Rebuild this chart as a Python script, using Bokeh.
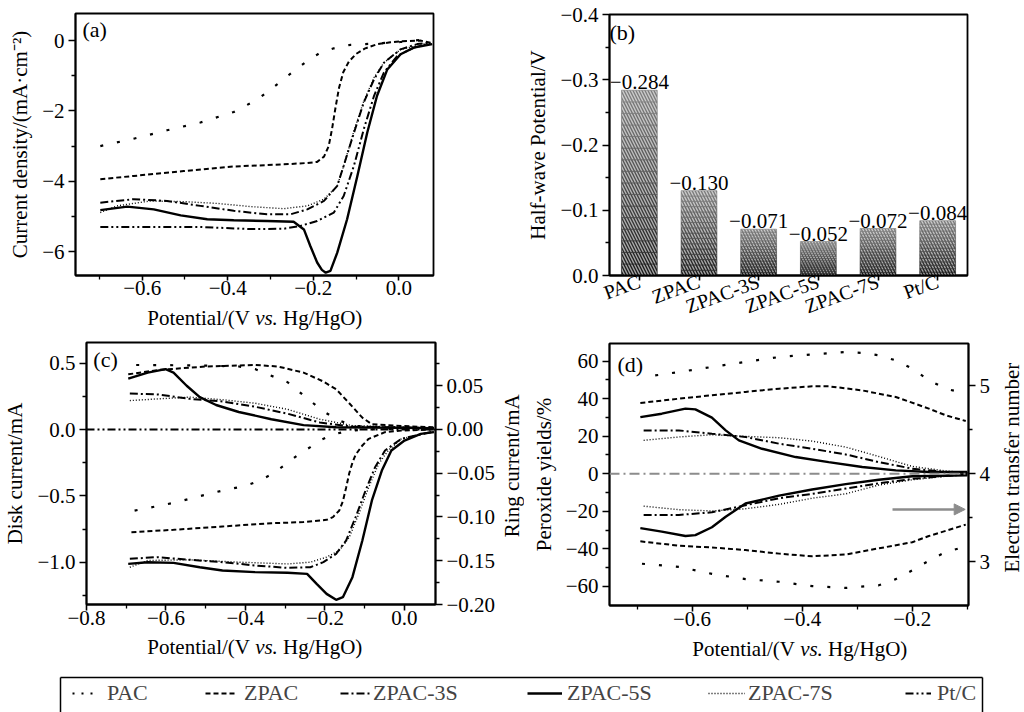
import math
from bokeh.plotting import figure
from bokeh.models import (Range1d, LinearAxis, FixedTicker, CustomJSTickFormatter, Label, Span,
                          Arrow, NormalHead, Legend, LegendItem, FactorRange)
from bokeh.core.properties import value
from bokeh.layouts import row, column
from bokeh.embed import file_html
from bokeh.resources import INLINE

FONT = "Liberation Serif"

NAMES = ["PAC", "ZPAC", "ZPAC-3S", "ZPAC-5S", "ZPAC-7S", "Pt/C"]

# ---------------- (a) LSV current density ----------------
PAC_A_X = [-0.698, -0.62, -0.542, -0.464, -0.386, -0.33, -0.284, -0.245, -0.214, -0.183, -0.152, -0.113, -0.058, 0.004, 0.05, 0.074]
PAC_A_Y = [-3.0, -2.79, -2.55, -2.33, -2.03, -1.67, -1.24, -0.86, -0.58, -0.34, -0.22, -0.12, -0.085, -0.04, 0.02, -0.06]
ZPAC_A_X = [-0.698, -0.62, -0.503, -0.386, -0.269, -0.214, -0.191, -0.175, -0.164, -0.156, -0.148, -0.14, -0.13, -0.117, -0.1, -0.08, -0.05, -0.02, 0.004, 0.05, 0.074]
ZPAC_A_Y = [-3.94, -3.85, -3.71, -3.58, -3.52, -3.48, -3.45, -3.3, -3.0, -2.5, -1.9, -1.35, -0.9, -0.6, -0.38, -0.23, -0.1, -0.05, -0.02, 0.0, -0.06]
Z3S_A_X = [-0.698, -0.62, -0.542, -0.464, -0.386, -0.308, -0.253, -0.214, -0.175, -0.144, -0.129, -0.105, -0.082, -0.058, -0.035, 0.004, 0.043, 0.074]
Z3S_A_Y = [-4.61, -4.51, -4.56, -4.70, -4.84, -4.94, -4.94, -4.80, -4.56, -4.13, -3.56, -2.62, -1.76, -1.10, -0.63, -0.25, -0.10, -0.06]
Z5S_A_X = [-0.698, -0.635, -0.573, -0.51, -0.448, -0.386, -0.308, -0.246, -0.222, -0.207, -0.191, -0.18, -0.171, -0.16, -0.144, -0.121, -0.097, -0.074, -0.051, -0.027, 0.004, 0.035, 0.078]
Z5S_A_Y = [-4.82, -4.72, -4.80, -4.97, -5.08, -5.11, -5.13, -5.15, -5.37, -5.84, -6.31, -6.52, -6.6, -6.55, -6.03, -5.08, -3.85, -2.62, -1.57, -0.82, -0.39, -0.2, -0.1]
Z7S_A_X = [-0.698, -0.659, -0.581, -0.503, -0.425, -0.347, -0.269, -0.214, -0.175, -0.144, -0.129, -0.105, -0.082, -0.058, -0.035, 0.004, 0.074]
Z7S_A_Y = [-4.89, -4.70, -4.56, -4.58, -4.63, -4.72, -4.78, -4.70, -4.51, -4.13, -3.56, -2.57, -1.72, -1.05, -0.63, -0.25, -0.06]
PTC_A_X = [-0.698, -0.581, -0.464, -0.347, -0.269, -0.23, -0.191, -0.152, -0.129, -0.105, -0.082, -0.058, -0.035, -0.004, 0.035, 0.074]
PTC_A_Y = [-5.30, -5.30, -5.30, -5.36, -5.35, -5.27, -5.13, -4.89, -4.42, -3.56, -2.52, -1.57, -0.91, -0.44, -0.2, -0.08]

A_XTICKS = [-0.6, -0.4, -0.2, 0.0]
A_XMINOR = [-0.7, -0.5, -0.3, -0.1]
A_YTICKS = [0, -2, -4, -6]
A_YMINOR = [-1, -3, -5]

# ---------------- (b) half-wave potentials ----------------
CATS = ["PAC", "ZPAC", "ZPAC-3S", "ZPAC-5S", "ZPAC-7S", "Pt/C"]
HALF_WAVE = [-0.284, -0.130, -0.071, -0.052, -0.072, -0.084]
B_YTICKS = [0.0, -0.1, -0.2, -0.3, -0.4]
B_YMINOR = [-0.05, -0.15, -0.25, -0.35]

# ---------------- (c) RRDE disk / ring currents ----------------
PAC_D_X = [-0.679, -0.626, -0.573, -0.516, -0.458, -0.401, -0.368, -0.335, -0.303, -0.27, -0.237, -0.213, -0.18, -0.139, -0.09, -0.008, 0.074]
PAC_D_Y = [-0.611, -0.58, -0.548, -0.503, -0.46, -0.425, -0.389, -0.339, -0.271, -0.196, -0.133, -0.083, -0.038, -0.008, 0.0, 0.005, 0.007]
ZPAC_D_X = [-0.687, -0.581, -0.458, -0.335, -0.254, -0.196, -0.18, -0.164, -0.155, -0.147, -0.139, -0.131, -0.123, -0.106, -0.09, -0.049, -0.008, 0.074]
ZPAC_D_Y = [-0.774, -0.756, -0.731, -0.706, -0.698, -0.681, -0.66, -0.61, -0.54, -0.44, -0.33, -0.25, -0.19, -0.12, -0.07, -0.02, -0.008, 0.0]
Z3S_D_X = [-0.691, -0.622, -0.54, -0.458, -0.376, -0.294, -0.237, -0.204, -0.172, -0.147, -0.123, -0.098, -0.074, -0.049, -0.008, 0.074]
Z3S_D_Y = [-0.975, -0.962, -0.982, -1.0, -1.025, -1.043, -1.038, -1.0, -0.937, -0.837, -0.661, -0.46, -0.284, -0.158, -0.07, -0.015]
Z5S_D_X = [-0.695, -0.646, -0.581, -0.515, -0.458, -0.376, -0.294, -0.245, -0.221, -0.196, -0.172, -0.155, -0.131, -0.106, -0.082, -0.057, -0.033, 0.0, 0.041, 0.074]
Z5S_D_Y = [-1.013, -1.0, -1.005, -1.038, -1.063, -1.075, -1.08, -1.088, -1.163, -1.239, -1.284, -1.264, -1.113, -0.837, -0.535, -0.309, -0.158, -0.083, -0.033, -0.02]
Z7S_D_X = [-0.691, -0.646, -0.54, -0.417, -0.294, -0.237, -0.196, -0.164, -0.139, -0.115, -0.09, -0.065, -0.041, -0.008, 0.074]
Z7S_D_Y = [-1.038, -0.987, -0.982, -1.0, -1.013, -1.0, -0.962, -0.912, -0.812, -0.636, -0.435, -0.259, -0.158, -0.07, -0.015]

PAC_R_X = [-0.675, -0.6, -0.5, -0.417, -0.376, -0.344, -0.294, -0.254, -0.205, -0.164, -0.123, -0.049, 0.074]
PAC_R_Y = [0.0737, 0.0735, 0.073, 0.072, 0.069, 0.063, 0.054, 0.039, 0.021, 0.010, 0.004, 0.0026, 0.0015]
ZPAC_R_X = [-0.695, -0.62, -0.499, -0.376, -0.319, -0.254, -0.205, -0.172, -0.139, -0.106, -0.082, -0.008, 0.074]
ZPAC_R_Y = [0.063, 0.068, 0.072, 0.0737, 0.072, 0.065, 0.055, 0.046, 0.030, 0.0135, 0.006, 0.004, 0.0025]
Z3S_R_X = [-0.691, -0.62, -0.54, -0.458, -0.376, -0.294, -0.213, -0.131, 0.074]
Z3S_R_Y = [0.041, 0.040, 0.035, 0.032, 0.026, 0.018, 0.008, 0.0033, 0.0015]
Z5S_R_X = [-0.695, -0.646, -0.601, -0.581, -0.548, -0.515, -0.474, -0.417, -0.335, -0.254, -0.172, 0.074]
Z5S_R_Y = [0.058, 0.065, 0.069, 0.065, 0.050, 0.037, 0.028, 0.020, 0.0117, 0.005, 0.0026, 0.0015]
Z7S_R_X = [-0.691, -0.62, -0.54, -0.458, -0.376, -0.294, -0.213, -0.131, 0.074]
Z7S_R_Y = [0.033, 0.035, 0.037, 0.034, 0.030, 0.023, 0.0117, 0.0044, 0.0018]

C_XTICKS = [-0.8, -0.6, -0.4, -0.2, 0.0]
C_XMINOR = [-0.7, -0.5, -0.3, -0.1]
C_YTICKS = [0.5, 0.0, -0.5, -1.0]
C_YMINOR = [0.25, -0.25, -0.75, -1.25]
C_RTICKS = [0.10, 0.05, 0.0, -0.05, -0.10, -0.15, -0.20]
C_RMINOR = [0.075, 0.025, -0.025, -0.075, -0.125, -0.175]

# ---------------- (d) peroxide yield / electron transfer number ----------------
PAC_H_X = [-0.667, -0.624, -0.564, -0.503, -0.442, -0.382, -0.321, -0.291, -0.261, -0.23, -0.2, -0.17, -0.139, -0.103]
PAC_H_Y = [52.4, 54.2, 56.9, 59.6, 62.2, 63.6, 64.9, 64.4, 63.1, 60.4, 56.0, 49.8, 45.3, 42.7]
ZPAC_H_X = [-0.694, -0.624, -0.564, -0.503, -0.442, -0.382, -0.352, -0.291, -0.23, -0.17, -0.139, -0.103]
ZPAC_H_Y = [37.7, 40.0, 41.8, 43.6, 45.3, 46.6, 46.6, 44.4, 40.9, 34.7, 31.1, 28.1]
Z3S_H_X = [-0.688, -0.624, -0.564, -0.503, -0.442, -0.382, -0.321, -0.261, -0.2, -0.139, -0.1]
Z3S_H_Y = [23.1, 23.1, 21.3, 19.6, 16.0, 13.3, 10.3, 6.2, 2.7, 0.9, 0.4]
Z5S_H_X = [-0.694, -0.655, -0.612, -0.594, -0.564, -0.539, -0.515, -0.473, -0.412, -0.352, -0.291, -0.23, -0.17, -0.1]
Z5S_H_Y = [30.2, 32.0, 34.7, 34.3, 29.9, 23.1, 17.8, 13.3, 8.9, 6.2, 3.6, 1.8, 0.9, 0.9]
Z7S_H_X = [-0.688, -0.624, -0.564, -0.503, -0.442, -0.382, -0.321, -0.261, -0.2, -0.139, -0.1]
Z7S_H_Y = [17.8, 19.6, 20.8, 19.9, 19.2, 17.4, 14.2, 9.2, 3.9, 1.5, 0.4]

PAC_N_X = [-0.691, -0.624, -0.564, -0.503, -0.442, -0.382, -0.321, -0.261, -0.23, -0.2, -0.17, -0.139, -0.115]
PAC_N_Y = [2.975, 2.94, 2.86, 2.80, 2.77, 2.72, 2.70, 2.73, 2.80, 2.90, 3.01, 3.11, 3.15]
ZPAC_N_X = [-0.694, -0.624, -0.564, -0.503, -0.442, -0.382, -0.321, -0.261, -0.2, -0.17, -0.139, -0.103]
ZPAC_N_Y = [3.23, 3.18, 3.16, 3.13, 3.09, 3.06, 3.08, 3.15, 3.22, 3.29, 3.35, 3.42]
Z3S_N_X = [-0.688, -0.624, -0.564, -0.503, -0.442, -0.382, -0.321, -0.261, -0.2, -0.139, -0.1]
Z3S_N_Y = [3.53, 3.53, 3.56, 3.64, 3.72, 3.77, 3.83, 3.89, 3.94, 3.975, 3.99]
Z5S_N_X = [-0.694, -0.655, -0.612, -0.594, -0.564, -0.539, -0.503, -0.442, -0.382, -0.321, -0.261, -0.2, -0.1]
Z5S_N_Y = [3.38, 3.34, 3.29, 3.30, 3.39, 3.51, 3.66, 3.75, 3.82, 3.88, 3.93, 3.97, 3.98]
Z7S_N_X = [-0.688, -0.624, -0.564, -0.503, -0.442, -0.382, -0.321, -0.261, -0.2, -0.139, -0.1]
Z7S_N_Y = [3.63, 3.59, 3.575, 3.60, 3.65, 3.72, 3.77, 3.87, 3.93, 3.97, 3.99]

D_XTICKS = [-0.6, -0.4, -0.2]
D_XMINOR = [-0.7, -0.5, -0.3, -0.1]
D_YTICKS = [60, 40, 20, 0, -20, -40, -60]
D_YMINOR = [50, 30, 10, -10, -30, -50]
D_NTICKS = [5, 4, 3]
D_NMINOR = [4.5, 3.5]

# ---------------- styles ----------------
STY = {
    "PAC": dict(line_dash="3 14", line_width=2.2),
    "ZPAC": dict(line_dash="5 3", line_width=2.0),
    "ZPAC-3S": dict(line_dash="8 3 2 3", line_width=2.0),
    "ZPAC-5S": dict(line_dash="solid", line_width=2.4),
    "ZPAC-7S": dict(line_dash="1 2", line_width=1.4),
    "Pt/C": dict(line_dash="8 3 2 3 2 3", line_width=2.0),
}
LEG_STY = dict(STY)
LEG_STY["PAC"] = dict(line_dash="2 7", line_width=2.0)

NAN = float("nan")


def fmt(dec):
    return CustomJSTickFormatter(code=(
        "const v = Math.abs(tick) < 1e-9 ? 0 : tick;"
        "return (v < 0 ? '\u2212' : '') + Math.abs(v).toFixed(%d);" % dec))


def style_axis(ax, tick_size="21px"):
    ax.axis_line_width = 1.8
    ax.axis_line_color = "black"
    ax.major_tick_out = 7
    ax.major_tick_in = 0
    ax.minor_tick_out = 4
    ax.minor_tick_in = 0
    ax.major_tick_line_width = 1.6
    ax.minor_tick_line_width = 1.3
    ax.major_tick_line_color = "black"
    ax.minor_tick_line_color = "black"
    ax.major_label_text_font = FONT
    ax.major_label_text_font_size = tick_size
    ax.major_label_text_color = "black"
    ax.major_label_standoff = 4
    ax.axis_label_text_font = FONT
    ax.axis_label_text_font_size = "21px"
    ax.axis_label_text_font_style = "normal"
    ax.axis_label_text_color = "black"
    ax.axis_label_standoff = 7


def bottom_axis(ax):
    ax.major_label_standoff = 0
    ax.major_tick_out = 6
    ax.minor_tick_out = 4


def mkfig(w, h, xr, yr, l, r, t, b):
    p = figure(width=w, height=h, x_range=xr, y_range=yr,
               min_border_left=l, min_border_right=r, min_border_top=t, min_border_bottom=b,
               toolbar_location=None, output_backend="svg")
    p.grid.visible = False
    p.outline_line_color = "black"
    p.outline_line_width = 1.8
    p.outline_line_alpha = 1.0
    p.background_fill_color = "white"
    p.border_fill_color = "white"
    return p


def text_fig(w, h):
    f = figure(width=w, height=h, x_range=Range1d(0, w), y_range=Range1d(0, h), min_border=0,
               x_axis_type=None, y_axis_type=None, toolbar_location=None, output_backend="svg")
    f.outline_line_color = None
    f.grid.visible = False
    return f


def add_text(f, x, y, text, align="center", baseline="middle", style="normal", size="21px", angle=0.0):
    f.add_layout(Label(x=x, y=y, text=text, text_align=align, text_baseline=baseline, angle=angle,
                       text_font=FONT, text_font_size=size, text_font_style=style, text_color="black"))


def xlabel_fig(w, h, cx, cy):
    f = text_fig(w, h)
    add_text(f, cx - 16.5, cy, "Potential/(V", align="right")
    add_text(f, cx, cy, "vs.", align="center", style="italic")
    add_text(f, cx + 16.5, cy, "Hg/HgO)", align="left")
    return f


def place(p, fw, fh, px, py, text):
    xr, yr = p.x_range, p.y_range
    x = xr.start + (xr.end - xr.start) * px / fw
    y = yr.end - (yr.end - yr.start) * py / fh
    p.add_layout(Label(x=x, y=y, text=text, text_align="left", text_baseline="top",
                       text_font=FONT, text_font_size="22px", text_color="black"))


# ---------------- panel (a) ----------------
pa = mkfig(512, 302, Range1d(-0.756, 0.081), Range1d(-6.68, 0.77), 75, 79, 13, 27)
pa.xaxis.ticker = FixedTicker(ticks=A_XTICKS, minor_ticks=A_XMINOR)
pa.yaxis.ticker = FixedTicker(ticks=A_YTICKS, minor_ticks=A_YMINOR)
pa.xaxis.formatter = fmt(1)
pa.yaxis.formatter = fmt(0)
pa.yaxis.axis_label = "Current density/(mA·cm⁻²)"
for ax in pa.axis:
    style_axis(ax)
bottom_axis(pa.xaxis[0])
pa.xaxis.major_tick_out = 5
A_DATA = {"PAC": (PAC_A_X, PAC_A_Y), "ZPAC": (ZPAC_A_X, ZPAC_A_Y), "ZPAC-3S": (Z3S_A_X, Z3S_A_Y),
          "ZPAC-5S": (Z5S_A_X, Z5S_A_Y), "ZPAC-7S": (Z7S_A_X, Z7S_A_Y), "Pt/C": (PTC_A_X, PTC_A_Y)}
for n in NAMES:
    xs, ys = A_DATA[n]
    pa.line(xs, ys, line_color="black", **STY[n])
place(pa, 358, 262, 7, 3, "(a)")
la = xlabel_fig(512, 28, 266, 13)

# ---------------- panel (b) ----------------
pb = figure(width=512, height=330, x_range=FactorRange(factors=CATS), y_range=Range1d(0, -0.4),
            min_border_left=97, min_border_right=57, min_border_top=14, min_border_bottom=53,
            toolbar_location=None, output_backend="svg")
pb.grid.visible = False
pb.outline_line_color = "black"
pb.outline_line_width = 1.8
pb.yaxis.ticker = FixedTicker(ticks=B_YTICKS, minor_ticks=B_YMINOR)
pb.yaxis.formatter = fmt(1)
pb.yaxis.axis_label = "Half-wave Potential/V"
for ax in pb.axis:
    style_axis(ax)
pb.xaxis.major_label_orientation = 0.35
pb.xaxis.major_label_text_font_size = "20px"
pb.xaxis.major_label_standoff = 0
pb.xaxis.major_tick_out = 5

NSLICE = 16
sx, sb, st, sc = [], [], [], []
for c, v in zip(CATS, HALF_WAVE):
    for k in range(NSLICE):
        sx.append(c)
        sb.append(v * k / NSLICE)
        st.append(v * (k + 1) / NSLICE)
        g = int(24 + (128 - 24) * (k + 0.5) / NSLICE)
        sc.append("#%02x%02x%02x" % (g, g, g))
pb.vbar(x=sx, bottom=sb, top=st, width=0.6, fill_color=sc, line_color=sc, line_width=0.6,
        hatch_pattern="\\", hatch_color="white", hatch_alpha=0.6, hatch_scale=6, hatch_weight=1.4)
BAR_LABELS = ["\u2212%.3f" % abs(v) for v in HALF_WAVE]
pb.text(x=CATS, y=HALF_WAVE, text=BAR_LABELS, text_font=value(FONT), text_font_size="21px",
        text_align="center", text_baseline="bottom", y_offset=-1, text_color="black")
place(pb, 358, 263, 9, 6, "(b)")

# ---------------- panel (c) ----------------
pc = mkfig(500, 304, Range1d(-0.8, 0.078), Range1d(-1.319, 0.656), 77, 65, 12, 30)
pc.extra_y_ranges = {"ring": Range1d(-0.2, 0.0994)}
pc.xaxis.ticker = FixedTicker(ticks=C_XTICKS, minor_ticks=C_XMINOR)
pc.yaxis.ticker = FixedTicker(ticks=C_YTICKS, minor_ticks=C_YMINOR)
pc.xaxis.formatter = fmt(1)
pc.yaxis.formatter = fmt(1)
pc.yaxis.axis_label = "Disk current/mA"
rax = LinearAxis(y_range_name="ring",
                 ticker=FixedTicker(ticks=C_RTICKS, minor_ticks=C_RMINOR), formatter=fmt(2))
pc.add_layout(rax, "right")
for ax in pc.axis:
    style_axis(ax)
bottom_axis(pc.xaxis[0])
pc.add_layout(Span(location=0, dimension="width", line_color="black", line_width=1.8,
                   line_dash=STY["Pt/C"]["line_dash"]))
D_DATA = {"PAC": (PAC_D_X, PAC_D_Y), "ZPAC": (ZPAC_D_X, ZPAC_D_Y), "ZPAC-3S": (Z3S_D_X, Z3S_D_Y),
          "ZPAC-5S": (Z5S_D_X, Z5S_D_Y), "ZPAC-7S": (Z7S_D_X, Z7S_D_Y)}
R_DATA = {"PAC": (PAC_R_X, PAC_R_Y), "ZPAC": (ZPAC_R_X, ZPAC_R_Y), "ZPAC-3S": (Z3S_R_X, Z3S_R_Y),
          "ZPAC-5S": (Z5S_R_X, Z5S_R_Y), "ZPAC-7S": (Z7S_R_X, Z7S_R_Y)}
for n in NAMES[:5]:
    xs, ys = D_DATA[n]
    pc.line(xs, ys, line_color="black", **STY[n])
    xs, ys = R_DATA[n]
    pc.line(xs, ys, line_color="black", y_range_name="ring", **STY[n])
place(pc, 358, 262, 7, 4, "(c)")
rc = text_fig(24, 304)
add_text(rc, 11, 161, "Ring current/mA", angle=math.pi / 2)
lc = xlabel_fig(524, 36, 266, 24)

# ---------------- panel (d) ----------------
pd = mkfig(476, 304, Range1d(-0.75, -0.098), Range1d(-70.2, 69.4), 85, 32, 13, 29)
pd.extra_y_ranges = {"n": Range1d(2.5, 5.48)}
pd.xaxis.ticker = FixedTicker(ticks=D_XTICKS, minor_ticks=D_XMINOR)
pd.yaxis.ticker = FixedTicker(ticks=D_YTICKS, minor_ticks=D_YMINOR)
pd.xaxis.formatter = fmt(1)
pd.yaxis.formatter = fmt(0)
pd.yaxis.axis_label = "Peroxide yields/%"
nax = LinearAxis(y_range_name="n",
                 ticker=FixedTicker(ticks=D_NTICKS, minor_ticks=D_NMINOR), formatter=fmt(0))
pd.add_layout(nax, "right")
for ax in pd.axis:
    style_axis(ax)
bottom_axis(pd.xaxis[0])
pd.add_layout(Span(location=0, dimension="width", line_color="#8c8c8c", line_width=1.8,
                   line_dash="10 4 2 4"))
H_DATA = {"PAC": (PAC_H_X, PAC_H_Y), "ZPAC": (ZPAC_H_X, ZPAC_H_Y), "ZPAC-3S": (Z3S_H_X, Z3S_H_Y),
          "ZPAC-5S": (Z5S_H_X, Z5S_H_Y), "ZPAC-7S": (Z7S_H_X, Z7S_H_Y)}
N_DATA = {"PAC": (PAC_N_X, PAC_N_Y), "ZPAC": (ZPAC_N_X, ZPAC_N_Y), "ZPAC-3S": (Z3S_N_X, Z3S_N_Y),
          "ZPAC-5S": (Z5S_N_X, Z5S_N_Y), "ZPAC-7S": (Z7S_N_X, Z7S_N_Y)}
for n in NAMES[:5]:
    xs, ys = H_DATA[n]
    pd.line(xs, ys, line_color="black", **STY[n])
    xs, ys = N_DATA[n]
    pd.line(xs, ys, line_color="black", y_range_name="n", **STY[n])
pd.add_layout(Arrow(end=NormalHead(size=11, fill_color="#8c8c8c", line_color="#8c8c8c"),
                    x_start=-0.236, y_start=-19, x_end=-0.104, y_end=-19,
                    line_color="#8c8c8c", line_width=2.5))
place(pd, 359, 262, 8, 8, "(d)")
rd = text_fig(24, 304)
add_text(rd, 11, 160, "Electron transfer number", angle=math.pi / 2)
ld = xlabel_fig(500, 36, 287, 22)

# ---------------- legend strip ----------------
pl = figure(width=1024, height=42, x_range=Range1d(0, 1), y_range=Range1d(0, 1),
            min_border_left=60, min_border_right=42, min_border_top=7, min_border_bottom=0,
            x_axis_type=None, y_axis_type=None, toolbar_location=None, output_backend="svg")
pl.grid.visible = False
pl.outline_line_color = None
for side in ["left", "right", "above"]:
    bax = LinearAxis(ticker=FixedTicker(ticks=[]), axis_line_width=1.5, axis_line_color="black",
                     major_tick_line_color=None, minor_tick_line_color=None,
                     major_label_text_font_size="0px")
    pl.add_layout(bax, side)

LEG_X = [12, 145, 280, 467, 648, 845]
LEG_GW = [24, 32, 30, 35, 37, 26]
LEG_SO = [11, 7, 3, 5, 3, 6]
for i, n in enumerate(NAMES):
    r = pl.line(x=[NAN], y=[NAN], line_color="black", **LEG_STY[n])
    lg = Legend(items=[LegendItem(label=n, renderers=[r])], location=(LEG_X[i], 6),
                orientation="horizontal", glyph_width=LEG_GW[i], glyph_height=20,
                label_standoff=LEG_SO[i], padding=0, margin=0, spacing=0,
                border_line_color=None, background_fill_alpha=0,
                label_text_font=FONT, label_text_font_size="22px", label_height=20)
    pl.add_layout(lg)

# the extra row() wrappers stop Bokeh from aligning the text strips' frames with the plots' frames
row1 = row(column(row(pa), la), pb)
row2 = row(column(row(pc, rc), lc), column(row(pd, rd), ld))
layout = column(row1, row2, pl)
open("out.html", "w").write(file_html(layout, INLINE, "RRDE figure"))
